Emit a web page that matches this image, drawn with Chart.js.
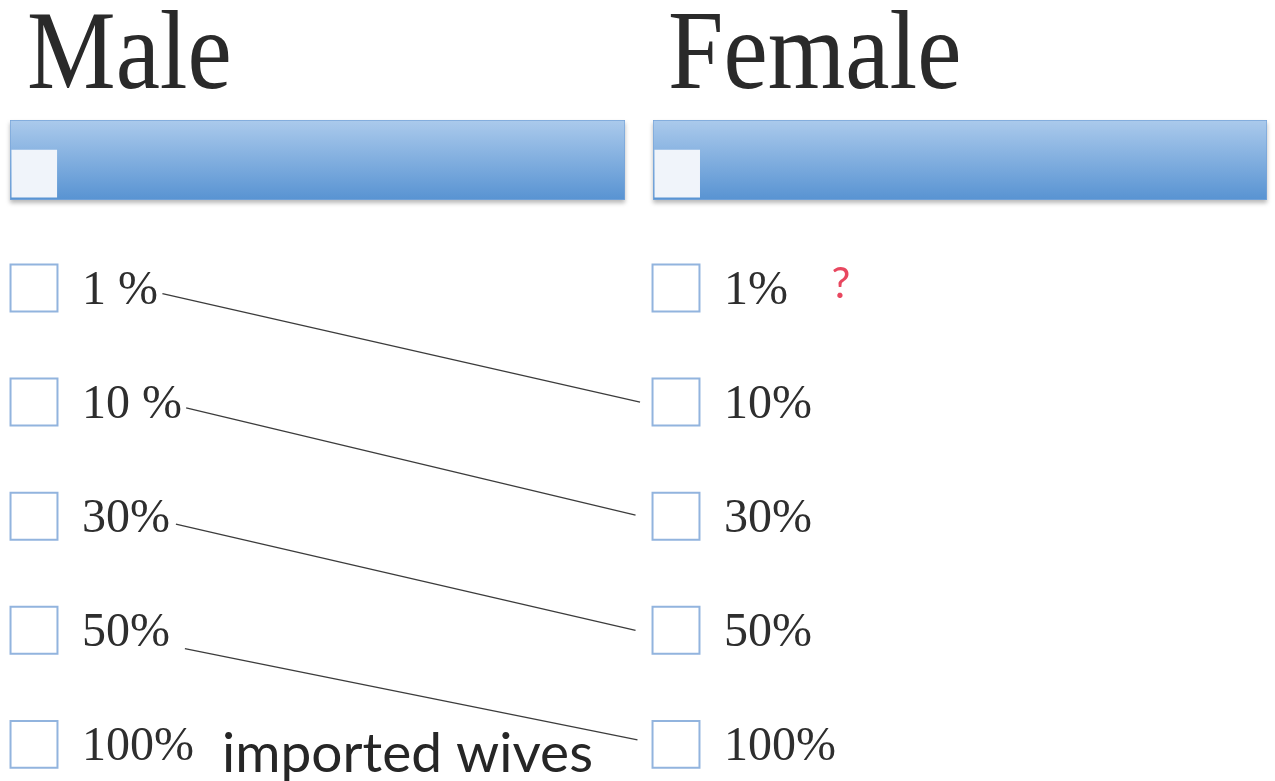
<!DOCTYPE html>
<html>
<head>
<meta charset="utf-8">
<script src="https://cdn.jsdelivr.net/npm/chart.js@4"></script>
<style>
  body { margin: 0; background: #fff; width: 1275px; height: 781px; overflow: hidden; position: relative; }
  .title { position: absolute; top: -14px; font-family: 'Liberation Serif', serif; font-size: 112px; color: #2a2a2a;
           transform: scaleX(0.89); transform-origin: left top; white-space: nowrap; }
  canvas { position: absolute; }
  .slider { filter: drop-shadow(0 3px 2px rgba(0,0,0,0.28)); }
</style>
</head>
<body>
<div class="title" id="title0" style="left:27px"></div>
<div class="title" id="title1" style="left:668px"></div>
<canvas id="slider0" class="slider" width="627" height="100" style="left:4px;top:110px"></canvas>
<canvas id="slider1" class="slider" width="626" height="100" style="left:647px;top:110px"></canvas>
<canvas id="rows" width="1275" height="551" style="left:0;top:230px"></canvas>
<script>
'use strict';

// column headings and the two slider bars
var columnNames = ['Male', 'Female'];
var sliderStart = [0.3, 0.3];
var sliderEnd = [7.6, 7.6];

// checkbox rows
var maleRows = ['1 %', '10 %', '30%', '50%', '100%'];
var femaleRows = ['1%', '10%', '30%', '50%', '100%'];

// lines from a male row to a female row (x: 0 = male column, 1 = female column; y: row index)
var linkFromX = [0.2, 0.237, 0.221, 0.235];
var linkFromRow = [0.05, 1.05, 2.07, 3.16];
var linkToX = [0.944, 0.937, 0.937, 0.94];
var linkToRow = [1.0, 1.99, 3.0, 3.96];

// loose notes
var noteText = ['?', 'imported wives'];
var noteX = [0.257, 0.293];
var noteRow = [-0.03, 4.09];
var noteColumnBase = [1, 0];

Chart.defaults.animation = false;
Chart.defaults.events = [];

// headings
for (var c = 0; c < columnNames.length; c++) {
  document.getElementById('title' + c).textContent = columnNames[c];
}

// slider bars
function trackGradient(context) {
  var area = context.chart.chartArea;
  if (!area) return '#7aa7dc';
  var g = context.chart.ctx.createLinearGradient(0, area.top, 0, area.bottom);
  g.addColorStop(0, '#abcaec');
  g.addColorStop(1, '#5893d2');
  return g;
}

for (var s = 0; s < columnNames.length; s++) {
  new Chart(document.getElementById('slider' + s), {
    type: 'bar',
    data: {
      datasets: [{
        label: columnNames[s] + ' track',
        data: [{ x: [0, 100], y: 0 }],
        backgroundColor: trackGradient,
        borderColor: '#77a4d8',
        borderWidth: 1,
        borderSkipped: false,
        barThickness: 80,
        grouped: false,
        order: 2
      }, {
        label: columnNames[s] + ' value',
        data: [{ x: [sliderStart[s], sliderEnd[s]], y: -0.34 }],
        backgroundColor: '#f0f4fa',
        borderWidth: 0,
        borderSkipped: false,
        barThickness: 47,
        grouped: false,
        order: 1
      }]
    },
    options: {
      indexAxis: 'y',
      responsive: false,
      layout: { autoPadding: false, padding: { left: 6, right: 6, top: 10, bottom: 10 } },
      plugins: { legend: { display: false }, tooltip: { enabled: false } },
      scales: {
        x: { type: 'linear', min: 0, max: 100, display: false },
        y: { type: 'linear', min: -1, max: 1, offset: false, display: false }
      }
    }
  });
}

// checkboxes, labels and link lines
var rowDatasets = [];
rowDatasets.push({
  label: 'male',
  data: maleRows.map(function (r, i) { return { x: 0, y: i }; }),
  rowText: maleRows
});
rowDatasets.push({
  label: 'female',
  data: femaleRows.map(function (r, i) { return { x: 1, y: i }; }),
  rowText: femaleRows
});
rowDatasets.forEach(function (d) {
  d.pointStyle = 'rect';
  d.pointRadius = 33.2;
  d.borderWidth = 2;
  d.borderColor = '#92b4de';
  d.backgroundColor = '#ffffff';
  d.showLine = false;
});
for (var k = 0; k < linkFromX.length; k++) {
  rowDatasets.push({
    type: 'line',
    label: 'link ' + k,
    data: [{ x: linkFromX[k], y: linkFromRow[k] }, { x: linkToX[k], y: linkToRow[k] }],
    borderColor: '#3c3c3c',
    borderWidth: 1.3,
    pointRadius: 0,
    fill: false
  });
}

var rowTextPlugin = {
  id: 'rowText',
  afterDatasetsDraw: function (chart) {
    var ctx = chart.ctx;
    var xs = chart.scales.x, ys = chart.scales.y;
    ctx.save();
    ctx.fillStyle = '#2e2e2e';
    ctx.font = '48px "Liberation Serif", serif';
    ctx.textAlign = 'left';
    ctx.textBaseline = 'middle';
    chart.data.datasets.forEach(function (d, di) {
      if (!d.rowText) return;
      chart.getDatasetMeta(di).data.forEach(function (pt, i) {
        ctx.fillText(d.rowText[i], pt.x + 48, pt.y + 3);
      });
    });
    // notes
    for (var n = 0; n < noteText.length; n++) {
      var px = xs.getPixelForValue(noteColumnBase[n] + noteX[n]);
      var py = ys.getPixelForValue(noteRow[n]);
      if (n === 0) {
        ctx.fillStyle = '#e8475f';
        ctx.font = '42px Lato, sans-serif';
        ctx.textAlign = 'center';
      } else {
        ctx.fillStyle = '#262626';
        ctx.font = '55px Lato, sans-serif';
        ctx.textAlign = 'left';
      }
      ctx.fillText(noteText[n], px, py);
    }
    ctx.restore();
  }
};

new Chart(document.getElementById('rows'), {
  type: 'scatter',
  data: { datasets: rowDatasets },
  options: {
    responsive: false,
    layout: { autoPadding: false, padding: 0 },
    plugins: { legend: { display: false }, tooltip: { enabled: false } },
    scales: {
      x: { type: 'linear', min: -0.05296, max: 1.93302, display: false },
      y: { type: 'linear', reverse: true, min: -0.5083, max: 4.3208, display: false }
    }
  },
  plugins: [rowTextPlugin]
});
</script>
</body>
</html>
